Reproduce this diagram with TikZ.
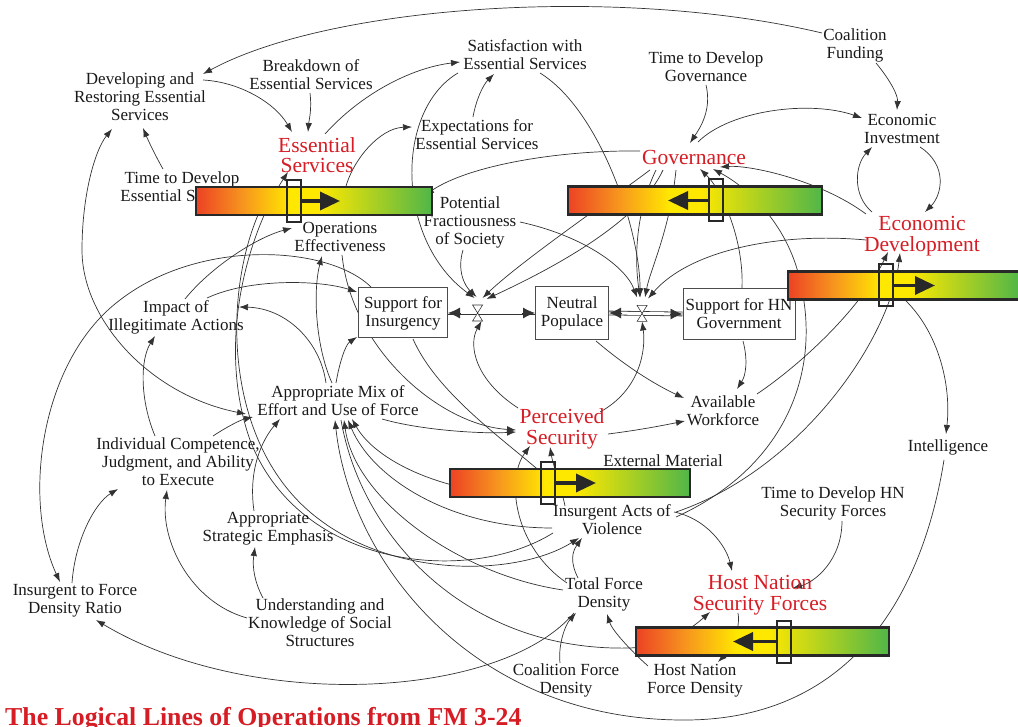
\documentclass[tikz,border=0pt]{standalone}
\usepackage{fontspec}
\setmainfont{Liberation Serif}
\usetikzlibrary{arrows.meta,calc}

\definecolor{stockRed}{RGB}{214,28,36}
\definecolor{barRed}{RGB}{236,66,36}
\definecolor{barOrange}{RGB}{247,150,30}
\definecolor{barYellow}{RGB}{255,232,0}
\definecolor{barGreen}{RGB}{80,182,72}
\definecolor{barEdge}{RGB}{40,40,40}
\definecolor{linkGray}{RGB}{50,50,50}

\pgfdeclarehorizontalshading{lloBar}{100bp}{color(0bp)=(barRed); color(25bp)=(barRed); color(35bp)=(barOrange); color(45bp)=(barYellow); color(51bp)=(barYellow); color(75bp)=(barGreen); color(100bp)=(barGreen)}
\pgfdeclarelayer{background}
\pgfsetlayers{background,main}

\begin{document}
\begin{tikzpicture}[x=1pt, y=-1pt,
    >={Latex[length=9pt,width=6.5pt]},
    var/.style={align=center, inner sep=0pt, text=black!90, font=\fontsize{17}{18}\selectfont},
    stock/.style={align=center, inner sep=0pt, text=stockRed, font=\fontsize{21.5}{20.5}\selectfont},
    box/.style={var, draw=black!70, line width=1pt, fill=white},
    link/.style={draw=linkGray, line width=0.7pt, ->},
    pipe/.style={draw=black!80, line width=0.8pt, double=white, double distance=3pt},
    pipeTip/.style={draw=black!80, line width=0.8pt, -{Latex[length=12pt,width=11pt]}},
    barBox/.style={draw=barEdge, line width=2.5pt, shade, shading=lloBar, minimum height=28pt, inner sep=0pt},
    knob/.style={draw=barEdge, line width=2pt, minimum width=14pt, minimum height=42pt, inner sep=0pt},
    barArrow/.style={draw=barEdge, line width=3.5pt, -{Triangle[length=20pt,width=18pt]}}]
    \useasboundingbox (0,0) rectangle (1018,727);

    % variables
    \node[var] (devES) at (140,97) {Developing and\\Restoring Essential\\Services};
    \node[var] (breakES) at (311,75) {Breakdown of\\Essential Services};
    \node[var] (satES) at (525,55) {Satisfaction with\\Essential Services};
    \node[var] (expES) at (477,135) {Expectations for\\Essential Services};
    \node[var] (ttdGov) at (706,67) {Time to Develop\\Governance};
    \node[var] (coalFund) at (855,45) {Coalition\\Funding};
    \node[var] (econInv) at (902,129) {Economic\\Investment};
    \node[var] (ttdES) at (182,187) {Time to Develop\\Essential Services};
    \node[var] (coalOps) at (340,237) {Operations\\Effectiveness};
    \node[var] (potFrac) at (470,222) {Potential\\Fractiousness\\of Society};
    \node[var] (impact) at (176,317) {Impact of\\Illegitimate Actions};
    \node[var] (appMix) at (338,401) {Appropriate Mix of\\Effort and Use of Force};
    \node[var] (indiv) at (178,462) {Individual Competence,\\Judgment, and Ability\\to Execute};
    \node[var] (availWF) at (723,411) {Available\\Workforce};
    \node[var] (intel) at (948,447) {Intelligence};
    \node[var] (extMat) at (663,461) {External Material};
    \node[var] (insAct) at (612,520) {Insurgent Acts of\\Violence};
    \node[var] (ttdHN) at (833,503) {Time to Develop HN\\Security Forces};
    \node[var] (apStrat) at (268,529) {Appropriate\\Strategic Emphasis};
    \node[var] (totForce) at (604,594) {Total Force\\Density};
    \node[var] (insRatio) at (75,601) {Insurgent to Force\\Density Ratio};
    \node[var] (underst) at (320,623) {Understanding and\\Knowledge of Social\\Structures};
    \node[var] (coalForce) at (566,680) {Coalition Force\\Density};
    \node[var] (hnForce) at (695,681) {Host Nation\\Force Density};

    % stocks
    \node[stock] (ES) at (317,155) {Essential\\Services};
    \node[stock] (Gov) at (694,157) {Governance};
    \node[stock] (econDev) at (922,236) {Economic\\Development};
    \node[stock] (percSec) at (562,429) {Perceived\\Security};
    \node[stock] (HNSF) at (760,595) {Host Nation\\Security Forces};

    % populace boxes
    \node[box, minimum width=89pt, minimum height=50pt] (supIns) at (403,313) {Support for\\Insurgency};
    \node[box, minimum width=73pt, minimum height=53pt] (neutral) at (572,313) {Neutral\\Populace};
    \node[box, minimum width=112pt, minimum height=51pt] (supHN) at (739,314) {Support for HN\\Government};

    \coordinate (v1) at ($(supIns.east)!0.34!(neutral.west)$);
    \coordinate (v2) at ($(neutral.east)!0.45!(supHN.west)$);

    \begin{pgfonlayer}{background}
        % top
        \draw[link] ($(coalFund)+(-33,-12)$) .. controls (620,-15) and (330,5) .. ($(devES)+(63,-23)$);
        \draw[link] ($(coalFund)+(21,18)$) .. controls (890,80) and (898,95) .. ($(econInv)+(-5,-19)$);
        \draw[link] ($(ttdGov)+(0,18)$) .. controls (712,110) and (700,128) .. ($(Gov)+(-4,-14)$);
        \draw[link] ($(Gov)+(4,-15)$) .. controls (730,110) and (810,100) .. ($(econInv)+(-40,-11)$);
        \draw[link] ($(econInv)+(18,18)$) .. controls (948,165) and (942,195) .. ($(econDev)+(3,-24)$);
        \draw[link] ($(econDev)+(-50,-24)$) .. controls (852,195) and (855,165) .. ($(econInv)+(-30,18)$);
        \draw[link] ($(econDev)+(-56,-22)$) .. controls (820,180) and (750,165) .. ($(Gov)+(26,10)$);
        \draw[link] ($(devES)+(63,-17)$) .. controls (240,82) and (275,103) .. ($(ES)+(-25,-23)$);
        \draw[link] ($(breakES)+(-1,18)$) .. controls (312,110) and (309,120) .. ($(ES)+(-9,-23)$);
        \draw[link] ($(ES)+(8,-21)$) .. controls (360,95) and (410,68) .. ($(satES)+(-65,7)$);
        \draw[link] ($(ES)+(28,35)$) .. controls (352,160) and (380,128) .. ($(expES)+(-65,-8)$);
        \draw[link] ($(expES)+(-4,-18)$) .. controls (476,100) and (483,85) .. ($(satES)+(-31,19)$);
        \draw[link] ($(ttdES)+(-19,-18)$) .. controls (155,155) and (148,140) .. ($(devES)+(3,31)$);
        \draw[link] ($(Gov)+(-54,-6)$) .. controls (560,150) and (470,165) .. ($(ES)+(108,40)$);

        % into the valves
        \draw[link] ($(satES)+(15,18)$) .. controls (600,110) and (640,230) .. ($(v2)+(-2,-16)$);
        \draw[link] ($(satES)+(-67,18)$) .. controls (395,110) and (395,240) .. ($(v1)+(-3,-15)$);
        \draw[link] ($(potFrac)+(-7,28)$) .. controls (457,270) and (464,285) .. ($(v1)+(-1,-16)$);
        \draw[link] ($(potFrac)+(50,0)$) .. controls (580,235) and (625,265) .. ($(v2)+(-5,-16)$);
        \draw[link] ($(Gov)+(-44,13)$) .. controls (610,200) and (520,262) .. ($(v1)+(5,-15)$);
        \draw[link] ($(Gov)+(-31,13)$) .. controls (640,220) and (560,265) .. ($(v1)+(9,-14)$);
        \draw[link] ($(Gov)+(-38,13)$) .. controls (632,220) and (636,270) .. ($(v2)+(-2,-16)$);
        \draw[link] ($(Gov)+(-18,13)$) .. controls (670,230) and (650,270) .. ($(v2)+(3,-16)$);
        \draw[link] ($(econDev)+(-56,4)$) .. controls (780,232) and (690,250) .. ($(v2)+(6,-15)$);
        \draw[link] ($(percSec)+(-44,-21)$) .. controls (475,380) and (468,345) .. ($(v1)+(4,8)$);
        \draw[link] ($(percSec)+(38,-17)$) .. controls (640,390) and (646,350) .. ($(v2)+(0,8)$);

        % right side
        \draw[link] ($(neutral)+(24,28)$) .. controls (630,370) and (660,387) .. ($(availWF)+(-39,-13)$);
        \draw[link] ($(percSec)+(46,5)$) .. controls (640,430) and (665,425) .. ($(availWF)+(-38,10)$);
        \draw[link] ($(supHN)+(4,27)$) .. controls (748,360) and (746,375) .. ($(availWF)+(14,-22)$);
        \draw[link] ($(availWF)+(34,-17)$) .. controls (800,365) and (860,310) .. ($(econDev)+(-34,16)$);
        \draw[link] ($(insAct)+(64,-8)$) .. controls (800,470) and (890,340) .. ($(econDev)+(-22,17)$);
        \draw[link] ($(econDev)+(-29,54)$) .. controls (935,320) and (952,380) .. ($(intel)+(-2,-13)$);
        \draw[link] ($(supHN)+(3,-26)$) .. controls (744,240) and (722,190) .. ($(Gov)+(6,12)$);
        \draw[link] ($(insAct)+(64,-3)$) .. controls (780,470) and (820,380) .. (802,290)
            .. controls (792,230) and (752,190) .. ($(Gov)+(19,12)$);

        % long loops round the bottom
        \draw[link] ($(intel)+(-4,13)$) .. controls (920,610) and (840,722) .. (680,720)
            .. controls (470,718) and (350,560) .. ($(appMix)+(-3,19)$);
        \draw[link] ($(appMix)+(3,19)$) .. controls (362,540) and (470,652) .. (630,648)
            .. controls (668,646) and (692,628) .. ($(HNSF)+(-50,17)$);
        \draw[link] ($(totForce)+(-41,-4)$) .. controls (460,575) and (355,500) .. ($(appMix)+(6,19)$);
        \draw[link] ($(insAct)+(-60,8)$) .. controls (450,528) and (372,478) .. ($(appMix)+(10,19)$);
        \draw[link] ($(percSec)+(-42,66)$) .. controls (440,492) and (375,460) .. ($(appMix)+(14,18)$);
        \draw[link] ($(insAct)+(-59,13)$) .. controls (470,585) and (300,570) .. (250,440)
            .. controls (215,340) and (250,230) .. ($(ES)+(-29,17)$);
        \draw[link] ($(ES)+(-59,60)$) .. controls (222,300) and (225,450) .. (320,520)
            .. controls (400,580) and (520,575) .. ($(insAct)+(-33,18)$);
        \draw[link] ($(supIns)+(10,26)$) .. controls (440,400) and (520,450) .. ($(insAct)+(-49,-27)$);
        \draw[link] ($(totForce)+(-30,19)$) .. controls (500,700) and (250,712) .. ($(insRatio)+(21,19)$);

        % lower middle
        \draw[link] ($(totForce)+(-26,-16)$) .. controls (570,562) and (572,552) .. ($(insAct)+(-30,18)$);
        \draw[link] ($(coalForce)+(-6,-17)$) .. controls (558,645) and (565,625) .. ($(totForce)+(-28,19)$);
        \draw[link] ($(hnForce)+(-47,-15)$) .. controls (630,650) and (612,630) .. ($(totForce)+(3,20)$);
        \draw[link] ($(totForce)+(-37,-11)$) .. controls (515,548) and (505,480) .. ($(percSec)+(-32,17)$);
        \draw[link] ($(insAct)+(-47,-14)$) .. controls (560,482) and (553,465) .. ($(percSec)+(-12,18)$);
        \draw[link] ($(extMat)+(-8,11)$) .. controls (650,480) and (642,490) .. ($(insAct)+(24,-24)$);
        \draw[link] ($(insAct)+(62,-8)$) .. controls (705,518) and (726,545) .. ($(HNSF)+(-28,-24)$);
        \draw[link] ($(ttdHN)+(9,18)$) .. controls (842,560) and (815,582) .. ($(HNSF)+(33,-7)$);
        \draw[link] ($(HNSF)+(-22,18)$) .. controls (741,630) and (730,650) .. ($(hnForce)+(23,-19)$);

        % left side
        \draw[link] ($(indiv)+(35,-26)$) .. controls (225,428) and (240,420) .. ($(appMix)+(-85,16)$);
        \draw[link, <->] ($(appMix)+(-92,13)$) .. controls (150,395) and (82,320) .. (82,250)
            .. controls (82,195) and (95,150) .. ($(devES)+(-28,32)$);
        \draw[link] ($(indiv)+(-23,-26)$) .. controls (140,400) and (140,360) .. ($(impact)+(-21,19)$);
        \draw[link] ($(apStrat)+(-14,-18)$) .. controls (248,470) and (262,440) .. ($(appMix)+(-58,18)$);
        \draw[link] ($(underst)+(-57,-25)$) .. controls (255,583) and (252,568) .. ($(apStrat)+(-13,18)$);
        \draw[link] ($(underst)+(-73,-5)$) .. controls (190,602) and (160,540) .. ($(indiv)+(-11,28)$);
        \draw[link] ($(insRatio)+(-3,-18)$) .. controls (75,540) and (95,503) .. ($(indiv)+(-60,27)$);
        \draw[link] ($(supIns)+(-31,-25)$) .. controls (330,245) and (200,238) .. (120,300)
            .. controls (40,360) and (22,500) .. ($(insRatio)+(-15,-19)$);
        \draw[link] ($(impact)+(31,-19)$) .. controls (250,278) and (320,280) .. ($(supIns)+(-46,-21)$);
        \draw[link] ($(impact)+(9,-18)$) .. controls (210,268) and (255,238) .. ($(coalOps)+(-48,-9)$);
        \draw[link] ($(appMix)+(-6,-18)$) .. controls (315,345) and (313,290) .. ($(coalOps)+(-18,19)$);
        \draw[link] ($(appMix)+(-2,-18)$) .. controls (339,365) and (345,345) .. ($(supIns)+(-46,24)$);
        \draw[link] ($(appMix)+(-12,-18)$) .. controls (320,340) and (285,308) .. ($(impact)+(63,-10)$);
        \draw[link] ($(coalOps)+(2,18)$) .. controls (352,350) and (440,425) .. ($(percSec)+(-46,1)$);
        \draw[link] ($(appMix)+(44,18)$) .. controls (420,430) and (480,434) .. ($(percSec)+(-46,3)$);
    \end{pgfonlayer}

    % flows between the populace boxes
    \draw[pipe] (supIns.east) -- (neutral.west);
    \draw[pipe] (neutral.east) -- (supHN.west);
    \draw[pipeTip] ($(supIns.east)+(13,0)$) -- (supIns.east);
    \draw[pipeTip] ($(neutral.west)+(-13,0)$) -- (neutral.west);
    \draw[pipeTip] ($(neutral.east)+(13,0)$) -- (neutral.east);
    \draw[pipeTip] ($(supHN.west)+(-13,0)$) -- (supHN.west);
    \foreach \v in {v1,v2}{
        \draw[black!80, line width=0.6pt, fill=white] (\v) -- ++(-5,-8) -- ++(10,0) -- cycle
            (\v) -- ++(-5,8) -- ++(10,0) -- cycle;
    }

    % level bars
    \foreach \nm/\cx/\cy/\w/\kx/\s/\len in {ES/314/201/236/294/1/46, Gov/695/200.5/254/716/-1/-48,
            Econ/904/285.5/232/886/1/49, Perc/570/483/240/548/1/48, HNSF/762.5/641.5/253/784/-1/-51}{
        \node[barBox, minimum width=\w pt] (\nm-bar) at (\cx,\cy) {};
        \node[knob] (\nm-knob) at (\kx,\cy) {};
        \draw[barArrow] ($(\nm-knob.center)+(\s*7,0)$) -- ($(\nm-knob.center)+(\len,0)$);
    }

    \node[anchor=base west, inner sep=0pt, text=stockRed, font=\bfseries\fontsize{25.8}{28}\selectfont] (title) at (5,725) {The Logical Lines of Operations from FM 3-24};
\end{tikzpicture}
\end{document}
